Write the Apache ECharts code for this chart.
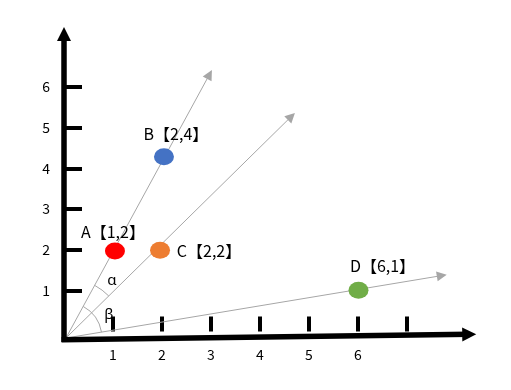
<!DOCTYPE html>
<html><head><meta charset="utf-8">
<script src="https://cdn.jsdelivr.net/npm/echarts@6/dist/echarts.min.js"></script>
<style>html,body{margin:0;padding:0;background:#fff}#c{width:511px;height:390px}</style>
</head><body><div id="c"></div>
<script>
// ---- data ----
const xTickValues = [1, 2, 3, 4, 5, 6, 7];
const xLabelValues = [1, 2, 3, 4, 5, 6];
const yTickValues = [1, 2, 3, 4, 5, 6];
const yLabelValues = [1, 2, 3, 4, 5, 6];

const pointNames = ['A', 'B', 'C', 'D'];
const pointTexts = ['A【1,2】', 'B【2,4】', 'C【2,2】', 'D【6,1】'];
const pointX = [1.04, 2.04, 1.96, 6.01];
const pointY = [1.97, 4.28, 1.99, 1.01];

const rayOrigin = [0.04, -0.16];
const rayEndX = [2.97, 4.64, 7.71];
const rayEndY = [6.30, 5.27, 1.37];

const xAxisFrom = [-0.05, -0.20];
const xAxisTo = [8.27, -0.07];
const yAxisFrom = [0, -0.26];
const yAxisTo = [0, 7.29];

const arcNames = ['α', 'β'];
const arcRays = [[0, 1], [0, 2]];

// ---- styles ----
const pointColors = ['#FF0000', '#4472C4', '#ED7D31', '#70AD47'];
const labelOffsets = [[-2, -19], [12, -23], [49, 1], [24, -24]];
const arcRadius = [60, 36];
const arcLabelOffsets = [[46, -57], [43, -23]];
const rayColor = '#A6A6A6';
const cjkFont = '"Noto Sans CJK SC", "Noto Sans", sans-serif';

const chart = echarts.init(document.getElementById('c'), null, {renderer: 'canvas'});

const rays = rayEndX.map((x, i) => ({coords: [rayOrigin, [x, rayEndY[i]]]}));
const points = pointX.map((x, i) => ({
  name: pointNames[i],
  value: [x, pointY[i]],
  itemStyle: {color: pointColors[i], opacity: 1},
  label: {offset: labelOffsets[i]}
}));

chart.setOption({
  animation: false,
  grid: {left: 64, right: 6, top: 5, bottom: 58.5},
  xAxis: {
    type: 'value', min: 0, max: 9, interval: 1, offset: 4.5,
    axisLine: {show: false}, splitLine: {show: false},
    axisTick: {show: true, inside: true, length: 15, customValues: xTickValues,
      lineStyle: {color: '#000', width: 4}},
    axisLabel: {customValues: xLabelValues, margin: 12, color: '#000', fontSize: 14, fontFamily: cjkFont}
  },
  yAxis: {
    type: 'value', min: 0, max: 8, interval: 1,
    axisLine: {show: false}, splitLine: {show: false},
    axisTick: {show: true, inside: true, length: 18, customValues: yTickValues,
      lineStyle: {color: '#000', width: 4}},
    axisLabel: {customValues: yLabelValues, margin: 14, color: '#000', fontSize: 14, fontFamily: cjkFont}
  },
  series: [
    {
      type: 'lines', coordinateSystem: 'cartesian2d', clip: false, silent: true, z: 3,
      symbol: ['none', 'triangle'], symbolSize: [9, 10],
      lineStyle: {color: rayColor, width: 1, opacity: 1, curveness: 0},
      itemStyle: {color: rayColor},
      data: rays
    },
    {
      type: 'lines', coordinateSystem: 'cartesian2d', clip: false, silent: true, z: 4,
      symbol: ['none', 'triangle'], symbolSize: [15, 14],
      lineStyle: {color: '#000', width: 5.5, opacity: 1, curveness: 0},
      itemStyle: {color: '#000'},
      data: [{coords: [xAxisFrom, xAxisTo]}, {coords: [yAxisFrom, yAxisTo]}]
    },
    {
      type: 'custom', coordinateSystem: 'cartesian2d', clip: false, silent: true, z: 3,
      data: arcNames.map((n, i) => [i]),
      encode: {x: -1, y: -1},
      renderItem: function (params, api) {
        const i = params.dataIndex;
        const o = api.coord(rayOrigin);
        const pair = arcRays[i];
        const e1 = api.coord([rayEndX[pair[0]], rayEndY[pair[0]]]);
        const e2 = api.coord([rayEndX[pair[1]], rayEndY[pair[1]]]);
        const a1 = Math.atan2(e1[1] - o[1], e1[0] - o[0]);
        const a2 = Math.atan2(e2[1] - o[1], e2[0] - o[0]);
        return {
          type: 'group',
          children: [
            {type: 'arc', shape: {cx: o[0], cy: o[1], r: arcRadius[i], startAngle: a1, endAngle: a2, clockwise: true},
              style: {stroke: rayColor, fill: null, lineWidth: 1}},
            {type: 'text', x: o[0] + arcLabelOffsets[i][0], y: o[1] + arcLabelOffsets[i][1],
              style: {text: arcNames[i], fill: '#000', font: '15px "Noto Sans", sans-serif', align: 'center', verticalAlign: 'middle'}}
          ]
        };
      }
    },
    {
      type: 'scatter', symbol: 'circle', symbolSize: [20, 17], z: 5,
      itemStyle: {opacity: 1},
      label: {
        show: true, position: 'inside', color: '#000', fontSize: 16, fontFamily: cjkFont,
        formatter: p => pointTexts[p.dataIndex]
      },
      data: points
    }
  ]
});
</script></body></html>
